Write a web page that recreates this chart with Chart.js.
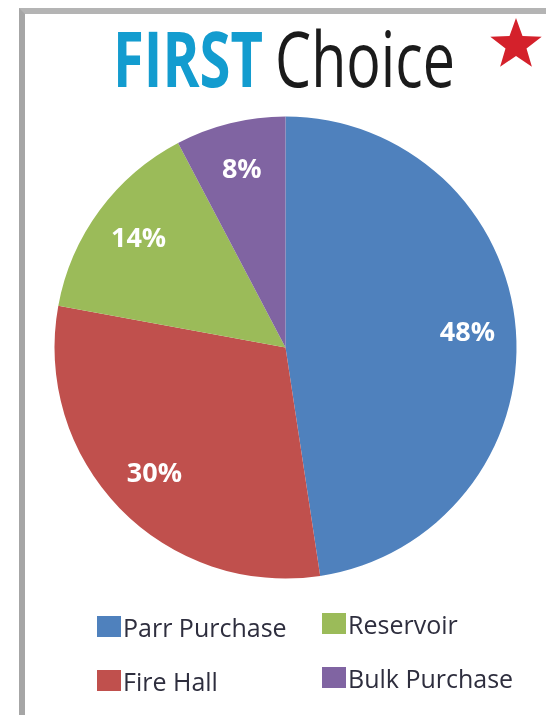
<!DOCTYPE html>
<html>
<head>
<meta charset="utf-8">
<script src="https://cdn.jsdelivr.net/npm/chart.js@4.4.1/dist/chart.umd.min.js"></script>
<style>
    html, body { margin: 0; padding: 0; background: #fff; }
    body { width: 546px; height: 715px; position: relative; overflow: hidden; font-family: "Open Sans", sans-serif; }
    #frame { position: absolute; left: 19px; top: 8px; width: 700px; height: 900px;
             border-top: 6px solid #b4b4b4; border-left: 6px solid #a6a6a6; }
    .title-part { position: absolute; top: 19px; font-size: 77px; line-height: 77px;
                  white-space: nowrap; transform-origin: 0 0; }
    #t1 { left: 113px; color: #139ccf; font-weight: 700; }
    #t2 { left: 275px; color: #1b1b1b; font-weight: 500; }
    #star { position: absolute; left: 488px; top: 16px; }
    #chart-wrap { position: absolute; left: 0; top: 0; width: 546px; height: 715px; }
    .legend-box { position: absolute; width: 24px; height: 21px; }
    .legend-text { position: absolute; font-size: 25px; line-height: 25px; color: #2e2e3e; white-space: nowrap; }
</style>
</head>
<body>
<div id="frame"></div>
<span class="title-part" id="t1">FIRST</span>
<span class="title-part" id="t2">Choice</span>
<svg id="star" width="56" height="56" viewBox="0 0 56 56">
    <polygon id="star-shape" fill="#d4212b"></polygon>
</svg>
<div id="chart-wrap"><canvas id="pie"></canvas></div>
<div id="legend"></div>
<script>
const labels = ["Parr Purchase", "Fire Hall", "Reservoir", "Bulk Purchase"];
const shares = [47.6, 30.3, 14.4, 7.7];
const sliceColors = ["#4f81bd", "#c0504d", "#9bbb59", "#8064a2"];

// squeeze the title words to the condensed look of the original
function fitWidth(id, target) {
    const el = document.getElementById(id);
    const w = el.getBoundingClientRect().width;
    el.style.transform = "scaleX(" + (target / w) + ")";
}
fitWidth("t1", 150);
fitWidth("t2", 180);

// five point star
const pts = [];
for (let i = 0; i < 10; i++) {
    const r = i % 2 === 0 ? 27 : 11;
    const a = -Math.PI / 2 + i * Math.PI / 5;
    pts.push((28 + r * Math.cos(a)).toFixed(1) + "," + (29 + r * Math.sin(a)).toFixed(1));
}
document.getElementById("star-shape").setAttribute("points", pts.join(" "));

const total = shares.reduce((a, b) => a + b, 0);

const sliceLabels = {
    id: "sliceLabels",
    afterDatasetsDraw(chart) {
        const ctx = chart.ctx;
        const meta = chart.getDatasetMeta(0);
        ctx.save();
        ctx.fillStyle = "#ffffff";
        ctx.font = "bold 27px 'Open Sans'";
        ctx.textAlign = "center";
        ctx.textBaseline = "middle";
        meta.data.forEach((arc, i) => {
            const p = arc.getProps(["x", "y", "startAngle", "endAngle", "outerRadius"], true);
            const mid = (p.startAngle + p.endAngle) / 2;
            const r = p.outerRadius * 0.79;
            ctx.fillText(Math.round(shares[i] / total * 100) + "%",
                p.x + Math.cos(mid) * r, p.y + Math.sin(mid) * r);
        });
        ctx.restore();
    },
};

const ctx = document.getElementById("pie").getContext("2d");
const pieChart = new Chart(ctx, {
    type: "pie",
    data: {
        labels: labels,
        datasets: [
            {
                data: shares,
                backgroundColor: sliceColors,
                borderWidth: 0,
            },
        ],
    },
    options: {
        responsive: true,
        maintainAspectRatio: false,
        animation: false,
        layout: {
            padding: { left: 54.5, right: 29.5, top: 116.5, bottom: 136.5 },
        },
        plugins: {
            legend: { display: false },
            tooltip: { enabled: false },
        },
    },
    plugins: [sliceLabels],
});

// legend laid out in two columns, filled top to bottom
const legend = document.getElementById("legend");
const colX = [97, 322];
const rowY = [[616, 670], [613, 667]];
labels.forEach((label, i) => {
    const col = Math.floor(i / 2);
    const row = i % 2;
    const box = document.createElement("div");
    box.className = "legend-box";
    box.style.left = colX[col] + "px";
    box.style.top = rowY[col][row] + "px";
    box.style.background = sliceColors[i];
    legend.appendChild(box);
    const text = document.createElement("div");
    text.className = "legend-text";
    text.style.left = (colX[col] + 26) + "px";
    text.style.top = (rowY[col][row] - 1) + "px";
    text.textContent = label;
    legend.appendChild(text);
});
</script>
</body>
</html>
